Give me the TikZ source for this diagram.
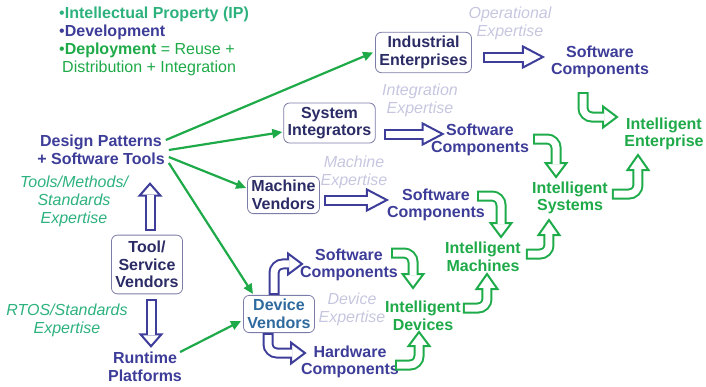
\documentclass[tikz,border=0pt]{standalone}
\usepackage{fontspec}
\setmainfont{Liberation Sans}
\usetikzlibrary{arrows.meta,calc}

\definecolor{boxtext}{HTML}{2B2B66}
\definecolor{boxline}{HTML}{7C7CA8}
\definecolor{textblue}{HTML}{3D3D99}
\definecolor{devblue}{HTML}{2F6A9F}
\definecolor{intgreen}{HTML}{1EAA48}
\definecolor{ipteal}{HTML}{2DB27E}
\definecolor{expgray}{HTML}{C6C6E0}
\definecolor{fatblue}{HTML}{3E3E9A}
\definecolor{fatgreen}{HTML}{1EAB4A}

\begin{document}
\begin{tikzpicture}[x=1pt, y=-1pt,
    txt/.style={font=\bfseries\fontsize{16}{17.5}\selectfont, align=center, inner sep=0pt},
    vendorbox/.style={txt, draw=boxline, line width=0.8pt, rounded corners=6pt, fill=white, text=boxtext, inner sep=4pt},
    bluetxt/.style={txt, text=textblue},
    greentxt/.style={txt, text=intgreen},
    expertise/.style={txt, font=\itshape\fontsize{16}{18}\selectfont, text=expgray},
    hint/.style={txt, font=\itshape\fontsize{16}{18}\selectfont, text=ipteal},
    link/.style={draw=intgreen, line width=2.2pt, -{Triangle[length=10pt,width=9pt]}}
]
    \useasboundingbox (0,0) rectangle (706,386);

    % Define hollow arrow sizes
    \def\shaftw{11pt}
    \def\shaftin{7pt}
    \def\headw{10.5pt}
    \def\bend{9pt}

    % Hollow arrow: colour, shaft from tail to head base, offset from base to tip
    \def\fatarrow#1#2#3{
        \draw[#1, line width=\shaftw, rounded corners=\bend] #2 coordinate (hb);
        \path (hb) ++#3 coordinate (ht);
        \filldraw[#1, fill=white, line width=2pt] ($(hb)!\headw!90:(ht)$) -- (ht) -- ($(hb)!\headw!-90:(ht)$) -- cycle;
        \draw[white, line width=\shaftin, rounded corners=\bend, shorten <=2pt, shorten >=-1.2pt] #2;
    }

    % Legend
    \node[txt, align=left, anchor=north west, font=\fontsize{16}{18}\selectfont] (legend) at (59,7) {
        \textcolor{ipteal}{\textbullet\textbf{Intellectual Property (IP)}}\\
        \textcolor{textblue}{\textbullet\textbf{Development}}\\
        \textcolor{intgreen}{\textbullet\textbf{Deployment} = Reuse +}\\
        \textcolor{intgreen}{\hspace*{3pt}Distribution + Integration}};

    % Vendor boxes
    \node[vendorbox] (ie) at (423.5,52.5) {Industrial\\Enterprises};
    \node[vendorbox] (si) at (329.5,123) {System\\Integrators};
    \node[vendorbox] (mv) at (283.5,195) {Machine\\Vendors};
    \node[vendorbox, inner ysep=6pt] (tsv) at (147,264.5) {Tool/\\Service\\Vendors};
    \node[vendorbox, text=devblue] (dv) at (279,314) {Device\\Vendors};

    % Plain blue texts
    \node[bluetxt] (dp) at (101,150) {Design Patterns\\+ Software Tools};
    \node[bluetxt] (rp) at (145,367) {Runtime\\Platforms};
    \node[bluetxt] (hc) at (350,362) {Hardware\\Components};
    \foreach \n/\x/\y in {sc1/600/62, sc2/480/140, sc3/436/205, sc4/349/265}
        \node[bluetxt] (\n) at (\x,\y) {Software\\Components};

    % Intelligent results
    \foreach \n/\x/\y/\what in {ient/664/134/Enterprise, isys/570/198/Systems, imach/483/257/Machines, idev/423/316/Devices}
        \node[greentxt] (\n) at (\x,\y) {Intelligent\\\what};

    % Expertise labels
    \foreach \n/\x/\y/\what in {oe/510/23/Operational, ine/420/100/Integration, mce/354/172/Machine, dve/352/309/Device}
        \node[expertise] (\n) at (\x,\y) {\what\\Expertise};
    \node[hint] (tme) at (74,201) {Tools/Methods/\\Standards\\Expertise};
    \node[hint] (rse) at (67,320) {RTOS/Standards\\Expertise};

    % Thin green links
    \draw[link] ($(dp.east)+(1,-10)$) -- ($(ie.west)+(-2,0)$);
    \draw[link] ($(dp.east)+(4,0)$) -- ($(si.west)+(-1,9)$);
    \draw[link] ($(dp.east)+(4,7)$) -- ($(mv.west)+(-1,-7)$);
    \draw[link] ($(dp.east)+(4,13)$) -- ($(dv.north)+(-26,-1)$);
    \draw[link] ($(rp.east)+(-2,-15)$) -- ($(dv.west)+(-2,7)$);

    % Blue hollow arrows
    \fatarrow{fatblue}{($(ie.east)+(11,4.5)$) -- ++(40,0)}{(20,0)}
    \fatarrow{fatblue}{($(si.east)+(8,11)$) -- ++(39,0)}{(20,0)}
    \fatarrow{fatblue}{($(mv.east)+(4,5)$) -- ++(43,0)}{(20,0)}
    \fatarrow{fatblue}{($(dv.north)+(-5,0)$) -- ++(0,-31) -- ++(14,0)}{(14,0)}
    \fatarrow{fatblue}{($(dv.south)+(-11,0)$) -- ++(0,20) -- ++(23,0)}{(14,0)}
    \fatarrow{fatblue}{($(tsv.north)+(3,-4)$) -- ++(0,-35)}{(0,-12)}
    \fatarrow{fatblue}{($(tsv.south)+(4,5)$) -- ++(0,35)}{(0,12)}

    % Green hollow arrows
    \fatarrow{fatgreen}{($(sc1)+(-17,30)$) -- ++(0,25) -- ++(20,0)}{(14,0)}
    \fatarrow{fatgreen}{($(sc2.east)+(4,-1)$) -- ++(23,0) -- ++(0,24)}{(0,14)}
    \fatarrow{fatgreen}{($(isys.east)+(4,-4)$) -- ++(26,0) -- ++(0,-24)}{(0,-15)}
    \fatarrow{fatgreen}{($(sc3)+(41,-9)$) -- ++(24,0) -- ++(0,27)}{(0,14)}
    \fatarrow{fatgreen}{($(imach.east)+(5,-3)$) -- ++(23,0) -- ++(0,-19)}{(0,-15)}
    \fatarrow{fatgreen}{($(sc4)+(42,-12)$) -- ++(22,0) -- ++(0,21)}{(0,14)}
    \fatarrow{fatgreen}{($(idev.east)+(2,-8)$) -- ++(24,0) -- ++(0,-19)}{(0,-15)}
    \fatarrow{fatgreen}{($(hc)+(45,3)$) -- ++(24,0) -- ++(0,-19)}{(0,-14)}
\end{tikzpicture}
\end{document}
